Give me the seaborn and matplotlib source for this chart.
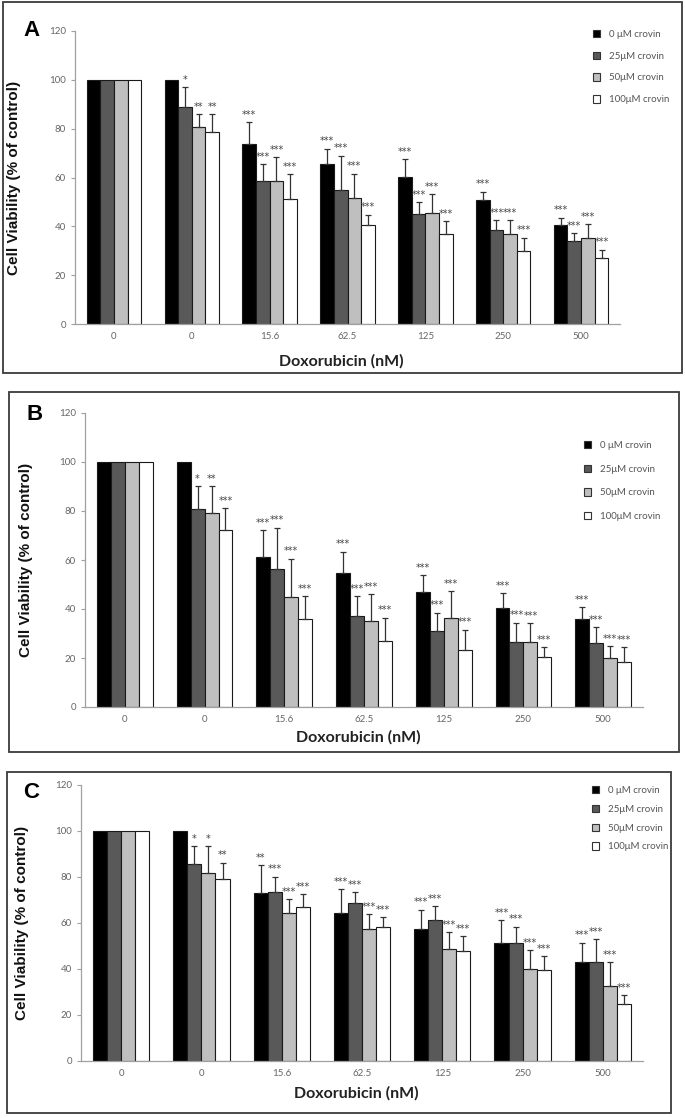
import numpy as np
import pandas as pd
import seaborn as sns
import matplotlib.pyplot as plt
from matplotlib.patches import Rectangle, Patch


# doxorubicin groups (first "0" is the untreated control)
doses = ["0", "0", "15.6", "62.5", "125", "250", "500"]
crovin = ["0 \u03bcM crovin", "25\u03bcM crovin", "50\u03bcM crovin", "100\u03bcM crovin"]
colors = ["#000000", "#595959", "#bfbfbf", "#ffffff"]

# panel A: mean viability per crovin level, sd, significance
a_viab = [[100, 100, 73.8, 65.6, 60.4, 50.7, 40.4],
          [100, 89.0, 58.6, 55.0, 45.1, 38.6, 34.1],
          [100, 80.7, 58.6, 51.4, 45.5, 36.7, 35.3],
          [100, 78.7, 51.0, 40.5, 36.7, 29.7, 27.1]]
a_sd = [[0, 0, 8.8, 6.1, 7.1, 3.4, 3.2],
        [0, 8.0, 6.9, 14.0, 4.7, 3.9, 3.1],
        [0, 5.3, 9.6, 10.1, 7.7, 5.8, 5.6],
        [0, 7.3, 10.4, 4.2, 5.4, 5.6, 3.4]]
a_sig = [["", "", "***", "***", "***", "***", "***"],
         ["", "*", "***", "***", "***", "***", "***"],
         ["", "**", "***", "***", "***", "***", "***"],
         ["", "**", "***", "***", "***", "***", "***"]]

# panel B
b_viab = [[100, 100, 61.2, 54.5, 46.9, 40.5, 36.0],
          [100, 81.0, 56.2, 37.1, 31.2, 26.7, 26.2],
          [100, 79.1, 44.9, 35.2, 36.4, 26.7, 19.9],
          [100, 72.1, 36.0, 26.9, 23.3, 20.3, 18.5]]
b_sd = [[0, 0, 10.9, 8.9, 6.8, 5.9, 4.8],
        [0, 9.0, 17.0, 8.2, 7.3, 7.7, 6.4],
        [0, 10.9, 15.6, 10.8, 10.9, 7.4, 4.9],
        [0, 9.0, 9.3, 9.5, 8.3, 4.1, 5.9]]
b_sig = [["", "", "***", "***", "***", "***", "***"],
         ["", "*", "***", "***", "***", "***", "***"],
         ["", "**", "***", "***", "***", "***", "***"],
         ["", "***", "***", "***", "***", "***", "***"]]

# panel C
c_viab = [[100, 100, 72.9, 64.5, 57.2, 51.4, 42.9],
          [100, 85.5, 73.6, 68.7, 61.3, 51.4, 42.9],
          [100, 81.9, 64.2, 57.2, 48.8, 40.1, 32.8],
          [100, 79.0, 66.8, 58.4, 47.7, 39.7, 24.8]]
c_sd = [[0, 0, 12.2, 10.1, 8.6, 9.9, 8.5],
        [0, 8.0, 6.5, 4.6, 5.9, 7.0, 10.1],
        [0, 11.6, 6.1, 6.7, 7.1, 8.0, 10.1],
        [0, 7.2, 5.7, 4.1, 6.5, 5.8, 3.9]]
c_sig = [["", "", "**", "***", "***", "***", "***"],
         ["", "*", "***", "***", "***", "***", "***"],
         ["", "*", "***", "***", "***", "***", "***"],
         ["", "**", "***", "***", "***", "***", "***"]]

sns.set_style("white")
plt.rcParams['font.family'] = ['Liberation Sans', 'DejaVu Sans']

W, H = 685, 1118
fig = plt.figure(figsize=(W / 100, H / 100), dpi=100)


def fx(px):
    return px / W


def fy(py):
    return 1 - py / H


def draw_panel(viab, sd, sig, axbox, frame, letter, letter_xy, ylab_x, xlab_y, leg_xy, leg_gap):
    left, right, top, bottom = axbox
    ax = fig.add_axes([fx(left), fy(bottom), fx(right - left), fy(top) - fy(bottom)])

    rows = []
    for s, name in enumerate(crovin):
        for g in range(len(doses)):
            rows.append({"group": g, "crovin": name, "viab": viab[s][g]})
    df = pd.DataFrame(rows)

    sns.barplot(data=df, x="group", y="viab", hue="crovin", order=list(range(len(doses))),
                hue_order=crovin, palette=colors, edgecolor="#1a1a1a", linewidth=0.8,
                width=0.7, errorbar=None, legend=False, ax=ax)
    bars = list(ax.containers)

    # upper error bars + significance stars
    for s, cont in enumerate(bars):
        xs = np.array([p.get_x() + p.get_width() / 2 for p in cont.patches])
        hs = np.array([p.get_height() for p in cont.patches])
        err = np.array(sd[s])
        m = err > 0
        ax.errorbar(xs[m], hs[m], yerr=[np.zeros(m.sum()), err[m]], fmt="none",
                    ecolor="#333333", elinewidth=0.9, capsize=2.5, capthick=0.9)
        for x, h, e, lab in zip(xs, hs, err, sig[s]):
            if lab:
                ax.text(x, h + e + 1.0, lab, ha="center", va="bottom", fontsize=7,
                        color="#444444", family="DejaVu Sans")

    ax.set_ylim(0, 120)
    ax.set_xlim(-0.5, len(doses) - 0.5)
    ax.set_yticks(range(0, 121, 20))
    ax.set_xticks(range(len(doses)))
    ax.set_xticklabels(doses)
    ax.set_xticks(np.arange(-0.5, len(doses)), minor=True)
    ax.tick_params(axis="x", which="major", length=0, pad=6, labelsize=7, labelcolor="#666666")
    ax.tick_params(axis="x", which="minor", length=3, color="#a0a0a0", width=0.8)
    ax.tick_params(axis="y", length=3, color="#a0a0a0", width=0.8, labelsize=7,
                   labelcolor="#666666", left=True)
    for lab in ax.get_xticklabels() + ax.get_yticklabels():
        lab.set_family("Lato")
    for sp in ["top", "right"]:
        ax.spines[sp].set_visible(False)
    for sp in ["left", "bottom"]:
        ax.spines[sp].set_color("#a0a0a0")
        ax.spines[sp].set_linewidth(0.9)

    ax.set_xlabel("")
    ax.set_ylabel("Cell Viability (% of control)", fontsize=11, fontweight="bold", color="#111111")
    ax.yaxis.set_label_coords((ylab_x - left) / (right - left), 0.5)

    fig.text(fx((left + right) / 2 - 6), fy(xlab_y), "Doxorubicin (nM)", ha="center", va="center",
             fontsize=11.5, fontweight="bold", family="Lato", color="#222222")
    fig.text(fx(letter_xy[0]), fy(letter_xy[1]), letter, ha="center", va="center",
             fontsize=16, fontweight="bold", color="#000000")

    handles = [Patch(facecolor=c, edgecolor="#333333", linewidth=0.8) for c in colors]
    fig.legend(handles, crovin, loc="upper left", bbox_to_anchor=(fx(leg_xy[0]), fy(leg_xy[1])),
               frameon=False, handlelength=0.7, handleheight=0.8,
               handletextpad=1.0, labelspacing=leg_gap, borderpad=0, labelcolor="#555555",
               prop={"family": "Lato", "size": 7})

    x0, y0, x1, y1 = frame
    fig.add_artist(Rectangle((fx(x0), fy(y1)), fx(x1 - x0), fy(y0) - fy(y1),
                             transform=fig.transFigure, fill=False,
                             edgecolor="#3a3a3a", linewidth=1.3))
    return ax


draw_panel(a_viab, a_sd, a_sig, (75, 620, 31, 324), (3, 2, 682, 373), "A", (31, 31),
           21, 361, (588, 25), 1.3)
draw_panel(b_viab, b_sd, b_sig, (85, 643, 413, 707), (9, 392, 679, 752), "B", (35, 415),
           33, 737, (579, 436), 1.5)
draw_panel(c_viab, c_sd, c_sig, (81, 643, 785, 1061), (7, 772, 671, 1113), "C", (31, 792),
           29, 1093, (587, 781), 1.0)

fig.savefig("out.png", dpi=100, facecolor="white")
